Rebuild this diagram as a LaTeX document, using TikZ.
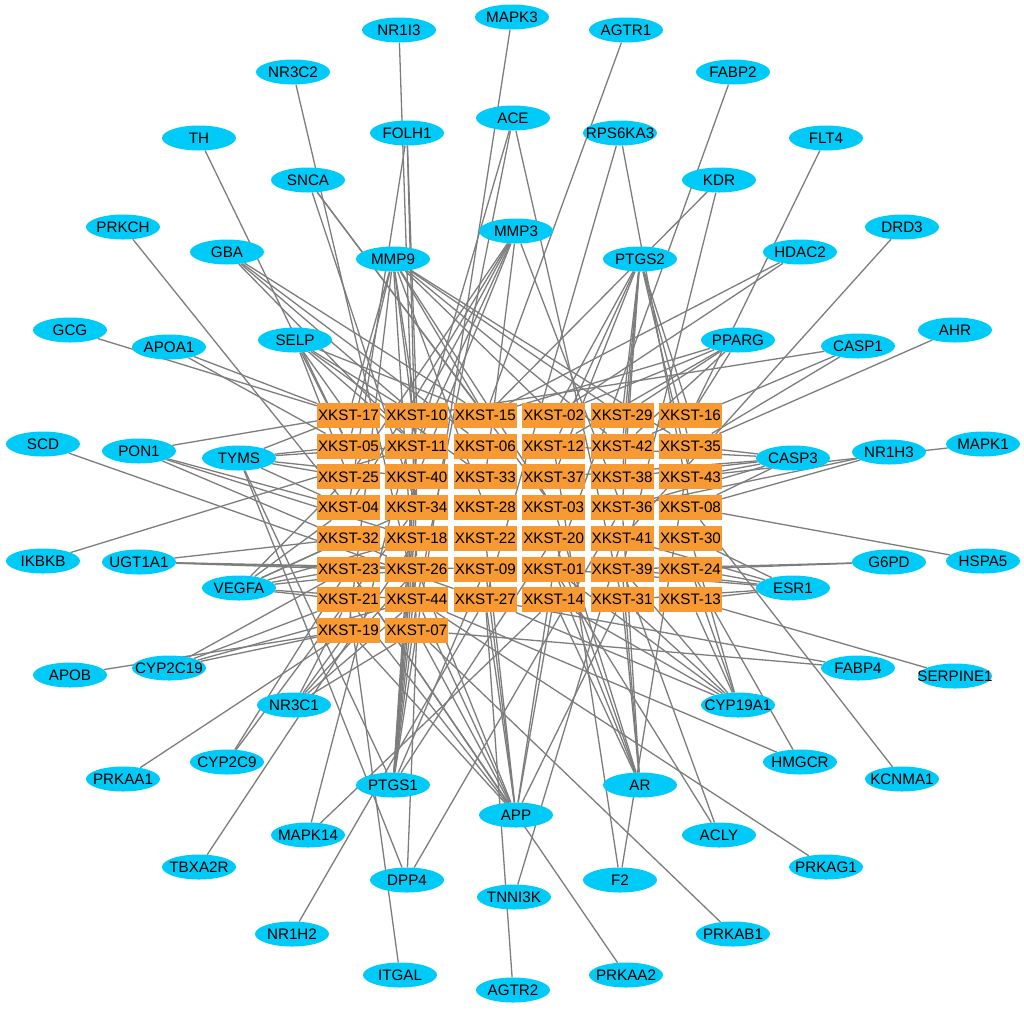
\documentclass[tikz,border=0pt]{standalone}
\usepackage{fontspec}
\setmainfont{Liberation Sans}
\usetikzlibrary{shapes.geometric}
\pgfdeclarelayer{bg}
\pgfsetlayers{bg,main}
\definecolor{tblue}{RGB}{0,202,248}
\definecolor{corange}{RGB}{248,154,52}
\definecolor{egray}{RGB}{125,125,125}
\newcommand\tgnode[3]{\node[tgt] (#1) at (#2,#3) {\makebox[0pt]{#1}};}
\begin{document}
\begin{tikzpicture}[x=1pt,y=-1pt,
  tgt/.style={ellipse, fill=tblue, minimum width=74pt, minimum height=25pt, inner sep=0pt, font=\fontsize{15.2}{18}\selectfont},
  cpd/.style={rectangle, fill=corange, minimum width=63pt, minimum height=25pt, inner sep=0pt, font=\fontsize{15.2}{18}\selectfont},
  edge/.style={draw=egray, line width=1.3pt}]
\useasboundingbox (0,0) rectangle (1024,1010);
% compounds
\foreach \lab [count=\i from 0] in {17,10,15,02,29,16,05,11,06,12,42,35,25,40,33,37,38,43,04,34,28,03,36,08,32,18,22,20,41,30,23,26,09,01,39,24,21,44,27,14,31,13,19,07}{
  \pgfmathtruncatemacro\cc{mod(\i,6)}
  \pgfmathtruncatemacro\rr{div(\i,6)}
  \node[cpd] (k\lab) at ({348.5+68.4*\cc},{415.5+30.7*\rr}) {\makebox[0pt]{XKST-\lab}};
}
% targets
\tgnode{MAPK3}{512}{17}
\tgnode{NR1I3}{399}{30}
\tgnode{AGTR1}{626}{30}
\tgnode{NR3C2}{293}{72}
\tgnode{FABP2}{733}{72}
\tgnode{ACE}{513}{118}
\tgnode{FOLH1}{407}{133}
\tgnode{RPS6KA3}{620}{133}
\tgnode{TH}{199}{138}
\tgnode{FLT4}{826}{138}
\tgnode{SNCA}{308}{180}
\tgnode{KDR}{719}{180}
\tgnode{PRKCH}{123}{227}
\tgnode{DRD3}{902}{227}
\tgnode{MMP3}{516}{231}
\tgnode{GBA}{227}{252}
\tgnode{HDAC2}{800}{252}
\tgnode{MMP9}{393}{259}
\tgnode{PTGS2}{640}{259}
\tgnode{GCG}{70}{330}
\tgnode{AHR}{955}{330}
\tgnode{SELP}{295}{340}
\tgnode{PPARG}{738}{340}
\tgnode{APOA1}{169}{347}
\tgnode{CASP1}{858}{346}
\tgnode{SCD}{43}{444}
\tgnode{MAPK1}{983}{444}
\tgnode{PON1}{139}{451}
\tgnode{NR1H3}{889}{452}
\tgnode{TYMS}{239}{458}
\tgnode{CASP3}{793}{458}
\tgnode{IKBKB}{43}{561}
\tgnode{HSPA5}{983}{561}
\tgnode{UGT1A1}{139}{562}
\tgnode{G6PD}{889}{562}
\tgnode{VEGFA}{239}{588}
\tgnode{ESR1}{793}{588}
\tgnode{CYP2C19}{169}{668}
\tgnode{FABP4}{858}{668}
\tgnode{APOB}{70}{675}
\tgnode{SERPINE1}{955}{676}
\tgnode{NR3C1}{294}{705}
\tgnode{CYP19A1}{738}{705}
\tgnode{CYP2C9}{227}{762}
\tgnode{HMGCR}{800}{762}
\tgnode{PRKAA1}{123}{779}
\tgnode{KCNMA1}{902}{779}
\tgnode{PTGS1}{393}{785}
\tgnode{AR}{640}{785}
\tgnode{APP}{516}{815}
\tgnode{MAPK14}{308}{835}
\tgnode{ACLY}{719}{835}
\tgnode{TBXA2R}{199}{867}
\tgnode{PRKAG1}{826}{867}
\tgnode{DPP4}{407}{880}
\tgnode{F2}{620}{880}
\tgnode{TNNI3K}{514}{897}
\tgnode{NR1H2}{292}{934}
\tgnode{PRKAB1}{733}{934}
\tgnode{ITGAL}{400}{975}
\tgnode{PRKAA2}{626}{975}
\tgnode{AGTR2}{513}{990}
\begin{pgfonlayer}{bg}
\fill[white] (0,0) rectangle (1024,1010);
\foreach \a/\b in {MAPK3/k07,NR1I3/k26,AGTR1/k15,NR3C2/k44,FABP2/k01,TH/k05,FLT4/k16,PRKCH/k04,DRD3/k41,GCG/k17,AHR/k35,SCD/k27,MAPK1/k43,IKBKB/k11,HSPA5/k08,APOB/k19,SERPINE1/k13,PRKAA1/k19,KCNMA1/k08,TBXA2R/k18,PRKAG1/k44,NR1H2/k27,PRKAB1/k07,ITGAL/k21,AGTR2/k27,PRKAA2/k23,
FOLH1/k04,FOLH1/k10,FOLH1/k34,ACE/k11,ACE/k44,ACE/k31,RPS6KA3/k27,RPS6KA3/k08,SNCA/k34,SNCA/k15,SNCA/k03,
GBA/k10,GBA/k15,GBA/k06,GBA/k11,
MMP9/k17,MMP9/k05,MMP9/k19,MMP9/k07,MMP9/k10,MMP9/k03,MMP9/k02,MMP9/k42,MMP9/k29,MMP9/k35,MMP9/k15,MMP9/k11,MMP9/k28,
MMP3/k25,MMP3/k04,MMP3/k10,MMP3/k11,MMP3/k40,MMP3/k36,MMP3/k33,
PTGS2/k02,PTGS2/k29,PTGS2/k42,PTGS2/k38,PTGS2/k36,PTGS2/k16,PTGS2/k35,PTGS2/k43,PTGS2/k12,PTGS2/k37,
KDR/k15,KDR/k39,HDAC2/k15,HDAC2/k02,APOA1/k17,APOA1/k05,
SELP/k17,SELP/k05,SELP/k10,SELP/k11,SELP/k15,SELP/k25,SELP/k33,
PPARG/k02,PPARG/k15,PPARG/k29,PPARG/k16,PPARG/k42,PPARG/k12,
CASP1/k10,CASP1/k35,CASP1/k42,
PON1/k17,PON1/k04,PON1/k18,PON1/k26,
TYMS/k05,TYMS/k11,TYMS/k25,TYMS/k40,TYMS/k04,TYMS/k17,TYMS/PTGS1,TYMS/DPP4,
CASP3/k35,CASP3/k43,CASP3/k38,CASP3/k08,CASP3/k36,CASP3/k37,CASP3/k12,
NR1H3/k08,NR1H3/k36,
UGT1A1/k23,UGT1A1/k26,UGT1A1/k09,UGT1A1/k32,
VEGFA/k23,VEGFA/k32,VEGFA/k21,VEGFA/k26,VEGFA/k18,VEGFA/k44,VEGFA/k04,VEGFA/k25,VEGFA/k34,
G6PD/k24,G6PD/k39,
ESR1/k30,ESR1/k24,ESR1/k13,ESR1/k39,ESR1/k41,ESR1/k31,ESR1/k01,
CYP2C19/k19,CYP2C19/k21,CYP2C19/k23,CYP2C19/k44,
FABP4/k27,FABP4/k07,
NR3C1/k19,NR3C1/k21,NR3C1/k07,NR3C1/k44,NR3C1/k26,
CYP19A1/k13,CYP19A1/k31,CYP19A1/k24,CYP19A1/k39,CYP19A1/k14,CYP19A1/k01,CYP19A1/k30,CYP19A1/k27,
CYP2C9/k23,CYP2C9/k34,HMGCR/k24,HMGCR/k44,
PTGS1/k10,PTGS1/k11,PTGS1/k40,PTGS1/k34,PTGS1/k18,PTGS1/k26,PTGS1/k44,PTGS1/k07,PTGS1/k20,PTGS1/k09,
AR/k03,AR/k20,AR/k01,AR/k14,AR/k39,AR/k31,AR/k36,
MAPK14/k10,MAPK14/k14,
APP/k19,APP/k21,APP/k23,APP/k07,APP/k44,APP/k26,APP/k27,APP/k09,APP/k22,APP/k14,APP/k01,APP/k31,
ACLY/k39,ACLY/k01,DPP4/k36,DPP4/k07,TNNI3K/k41,F2/k12,F2/k35}
  \draw[edge] (\a) -- (\b);
\end{pgfonlayer}
\end{tikzpicture}
\end{document}
